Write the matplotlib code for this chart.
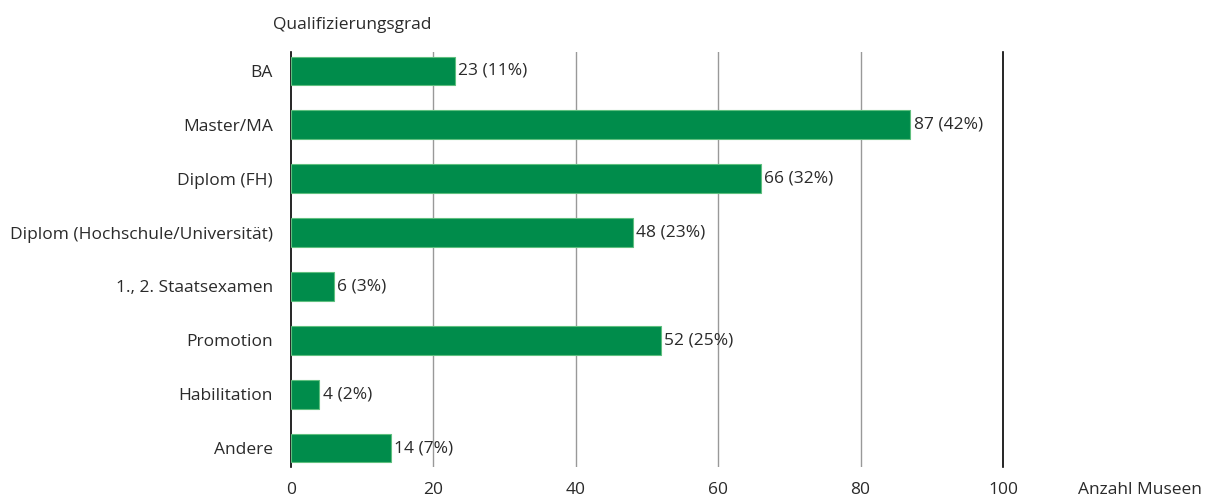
import matplotlib

matplotlib.use("Agg")
import matplotlib.pyplot as plt

CATEGORIES = [
    "BA",
    "Master/MA",
    "Diplom (FH)",
    "Diplom (Hochschule/Universität)",
    "1., 2. Staatsexamen",
    "Promotion",
    "Habilitation",
    "Andere",
]
COUNTS = [23, 87, 66, 48, 6, 52, 4, 14]
PERCENTS = [11, 42, 32, 23, 3, 25, 2, 7]
XTICKS = [0, 20, 40, 60, 80, 100]

GREEN = "#008c4b"
TEXT = "#2a2a2a"
FS = 12.5
plt.rcParams["font.family"] = ["Open Sans", "DejaVu Sans"]
plt.rcParams["font.size"] = FS

fig = plt.figure(figsize=(12.11, 5.01), dpi=100)
ax = fig.add_axes([0.2403, 0.0679, 0.5879, 0.8283])

ys = list(range(len(CATEGORIES)))
ax.barh(ys, COUNTS, height=0.53, color=GREEN, edgecolor="#5fbf7f", linewidth=0.8, zorder=3)
for y, c, p in zip(ys, COUNTS, PERCENTS):
    ax.text(c + 0.45, y, f"{c} ({p}%)", va="center", ha="left", fontsize=FS, color=TEXT, zorder=4)

ax.set_xlim(0, 100)
ax.set_ylim(7.35, -0.35)
ax.set_yticks(ys)
ax.set_yticklabels(CATEGORIES)
ax.set_xticks(XTICKS)
ax.tick_params(axis="both", length=0, labelsize=FS, colors=TEXT)
ax.tick_params(axis="y", pad=13)
ax.tick_params(axis="x", pad=11)

for x in XTICKS[1:-1]:
    ax.axvline(x, color="#999999", linewidth=1, zorder=1)

for side in ("top", "bottom"):
    ax.spines[side].set_visible(False)
ax.spines["left"].set_color("black")
ax.spines["right"].set_color("black")
ax.spines["left"].set_linewidth(1.2)
ax.spines["right"].set_linewidth(1.2)

fig.text(352 / 1211, 1 - 25 / 501, "Qualifizierungsgrad", ha="center", va="center", fontsize=FS, color=TEXT)
fig.text(1140 / 1211, 1 - 490 / 501, "Anzahl Museen", ha="center", va="center", fontsize=FS, color=TEXT)

fig.savefig("out.png")
